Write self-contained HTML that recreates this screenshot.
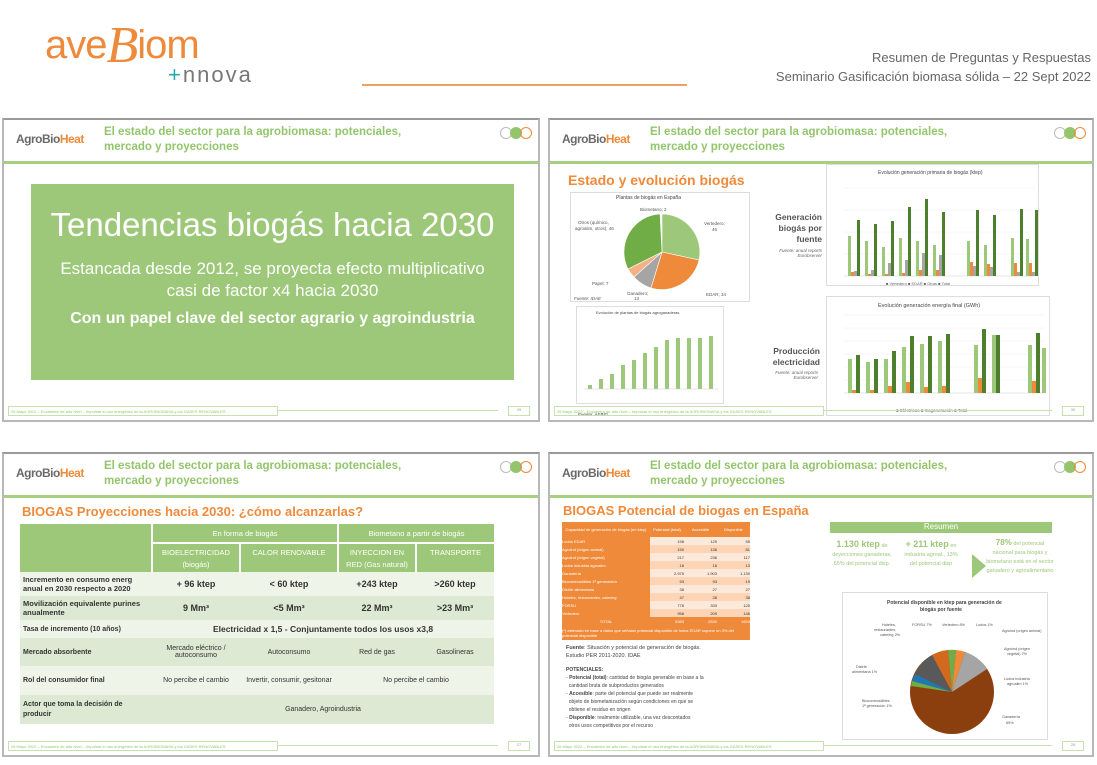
<!DOCTYPE html>
<html><head><meta charset="utf-8">
<style>
*{margin:0;padding:0;box-sizing:border-box}
body{width:1097px;height:765px;background:#fff;font-family:"Liberation Sans",sans-serif;position:relative;overflow:hidden}
.a{position:absolute}
.slide{position:absolute;border:2px solid #b8b8b8;border-top-color:#9a9a9a;background:#fff;overflow:hidden}
.hdr{position:absolute;left:0;right:0;top:0;height:44px;border-bottom:3px solid #a6cf82}
.logo{position:absolute;left:12px;top:12px;font-size:12px;font-weight:bold;color:#6a6a6a;letter-spacing:-0.5px}
.logo b{color:#ef8a3a}
.ttl{position:absolute;left:100px;top:5px;font-size:11.5px;font-weight:bold;color:#93c66c;line-height:15px}
.dots{position:absolute;right:6px;top:6px}
.dots span{display:inline-block;width:12px;height:12px;border-radius:50%;border:1px solid #bbb;margin-left:-2px}
.ftr{position:absolute;left:4px;bottom:4px;width:270px;height:10px;border:1px solid #c6e0b0;font-size:4px;color:#93c66c;padding:2px}
.fline{position:absolute;left:274px;right:40px;bottom:9px;border-top:1px solid #c6e0b0}
.fnum{position:absolute;right:8px;bottom:4px;width:22px;height:10px;border:1px solid #c6e0b0;font-size:4px;color:#999;text-align:center}
.or{color:#ef8a3a;font-weight:bold}
table{border-collapse:collapse;table-layout:fixed}
</style></head><body>

<div class="a" style="left:45px;top:12px;font-size:40px;color:#ee8a3c;letter-spacing:-1px">ave<span style="font-family:'Liberation Serif',serif;font-style:italic;font-size:52px;position:relative;top:4px">B</span>iom</div>
<div class="a" style="left:168px;top:62px;font-size:22px;color:#777;letter-spacing:2px"><span style="color:#2aa8b0">+</span>nnova</div>
<div class="a" style="left:362px;top:84px;width:325px;height:2px;background:#f0a062"></div>
<div class="a" style="right:6px;top:48px;font-size:13px;color:#666;text-align:right;line-height:19px">Resumen de Preguntas y Respuestas<br>Seminario Gasificación biomasa sólida – 22 Sept 2022</div>

<!-- slide 1 -->
<div class="slide" style="left:2px;top:118px;width:538px;height:304px">
 <div class="hdr"><div class="logo">AgroBio<b>Heat</b></div><div class="ttl">El estado del sector para la agrobiomasa: potenciales,<br>mercado y proyecciones</div><div class="dots"><span></span><span style="background:#93c66c;border-color:#93c66c"></span><span style="border-color:#ef8a3a"></span></div></div>
 <div class="a" style="left:27px;top:64px;width:483px;height:196px;background:#9dc879;color:#fff;text-align:center">
  <div style="font-size:33px;margin-top:22px">Tendencias biogás hacia 2030</div>
  <div style="font-size:17px;margin-top:14px;line-height:22px">Estancada desde 2012, se proyecta efecto multiplicativo<br>casi de factor x4 hacia 2030</div>
  <div style="font-size:16px;font-weight:bold;margin-top:8px">Con un papel clave del sector agrario y agroindustria</div>
 </div>
 <div class="ftr">26 Mayo 2022 – Encuentro de alto nivel – Impulsar el uso energético de la AGROBIOMASA y los GASES RENOVABLES</div><div class="fline"></div><div class="fnum">29</div>
</div>

<!-- slide 2 -->
<div class="slide" style="left:548px;top:118px;width:546px;height:304px">
 <div class="hdr"><div class="logo">AgroBio<b>Heat</b></div><div class="ttl">El estado del sector para la agrobiomasa: potenciales,<br>mercado y proyecciones</div><div class="dots"><span></span><span style="background:#93c66c;border-color:#93c66c"></span><span style="border-color:#ef8a3a"></span></div></div>
 <div class="a or" style="left:18px;top:52px;font-size:14px">Estado y evolución biogás</div>
 <div class="a" style="left:20px;top:72px;width:180px;height:110px;border:1px solid #ddd"></div>
 <div class="a" style="left:66px;top:75px;font-size:5px;color:#444">Plantas de biogás en España</div>
 <svg class="a" style="left:20px;top:72px" width="180" height="110">
  <path d="M92 60 L92 22 A38 38 0 0 1 129 68 Z" fill="#9dc879" stroke="#fff" stroke-width=".6"/>
  <path d="M92 60 L129 68 A38 38 0 0 1 81 96 Z" fill="#ef8a3a" stroke="#fff" stroke-width=".6"/>
  <path d="M92 60 L81 96 A38 38 0 0 1 64 85 Z" fill="#a5a5a5" stroke="#fff" stroke-width=".6"/>
  <path d="M92 60 L64 85 A38 38 0 0 1 58 77 Z" fill="#f4b183" stroke="#fff" stroke-width=".6"/>
  <path d="M92 60 L58 77 A38 38 0 0 1 90 22 Z" fill="#70ad47" stroke="#fff" stroke-width=".6"/>
  <text font-size="4.5" fill="#555"><tspan x="70" y="19">Biometano; 2</tspan><tspan x="134" y="33">Vertedero;</tspan><tspan x="142" y="39">46</tspan><tspan x="8" y="32">Otros (químico,</tspan><tspan x="5" y="38">agroalim, otros); 46</tspan><tspan x="22" y="93">Papel; 7</tspan><tspan x="57" y="103">Ganadero;</tspan><tspan x="64" y="108">13</tspan><tspan x="136" y="104">EDAR; 34</tspan><tspan x="4" y="108" font-style="italic">Fuente: IDAE</tspan></text>
 </svg>
 <div class="a" style="left:26px;top:186px;width:148px;height:98px;border:1px solid #ddd"></div>
 <svg class="a" style="left:26px;top:186px" width="150" height="115">
  <text x="20" y="8" font-size="4" fill="#444">Evolución de plantas de biogás agroganaderas</text>
  <g fill="#9dc879">
   <rect x="12" y="79" width="4" height="4"/><rect x="23" y="73" width="4" height="10"/><rect x="34" y="68" width="4" height="15"/><rect x="45" y="59" width="4" height="24"/><rect x="56" y="54" width="4" height="29"/><rect x="67" y="47" width="4" height="36"/><rect x="78" y="41" width="4" height="42"/><rect x="89" y="34" width="4" height="49"/><rect x="100" y="32" width="4" height="51"/><rect x="111" y="32" width="4" height="51"/><rect x="122" y="32" width="4" height="51"/><rect x="133" y="30" width="4" height="53"/>
  </g>
  <line x1="8" y1="83" x2="142" y2="83" stroke="#ccc" stroke-width=".5"/>
  <text x="2" y="110" font-size="4.5" font-style="italic" fill="#444">Fuente: AEBIG</text>
 </svg>
 <div class="a" style="width:50px;text-align:right;font-size:8.5px;font-weight:bold;color:#555;line-height:11px;left:222px;top:92px">Generación biogás por fuente</div>
 <div class="a" style="left:222px;top:128px;width:50px;text-align:right;font-size:4.5px;font-style:italic;color:#666">Fuente: anual reports Eurobserver</div>
 <div class="a" style="left:276px;top:44px;width:213px;height:122px;border:1px solid #ddd"></div>
 <svg class="a" style="left:276px;top:44px" width="214" height="122">
  <text x="52" y="10" font-size="5" fill="#444">Evolución generación primaria de biogás (ktep)</text>
  <g stroke="#eee" stroke-width=".5"><line x1="18" y1="24" x2="208" y2="24"/><line x1="18" y1="46" x2="208" y2="46"/><line x1="18" y1="68" x2="208" y2="68"/><line x1="18" y1="90" x2="208" y2="90"/></g>
  <line x1="18" y1="112" x2="208" y2="112" stroke="#ccc" stroke-width=".5"/>
  <g fill="#9dc879"><rect x="22" y="72" width="3" height="40"/><rect x="39" y="77" width="3" height="35"/><rect x="56" y="83" width="3" height="29"/><rect x="73" y="74" width="3" height="38"/><rect x="90" y="77" width="3" height="35"/><rect x="107" y="81" width="3" height="31"/><rect x="141" y="77" width="3" height="35"/><rect x="158" y="81" width="3" height="31"/><rect x="185" y="74" width="3" height="38"/><rect x="200" y="75" width="3" height="37"/></g>
  <g fill="#ef8a3a"><rect x="25" y="108" width="3" height="4"/><rect x="42" y="110" width="3" height="2"/><rect x="59" y="110" width="3" height="2"/><rect x="76" y="109" width="3" height="3"/><rect x="93" y="106" width="3" height="6"/><rect x="110" y="106" width="3" height="6"/><rect x="144" y="98" width="3" height="14"/><rect x="161" y="100" width="3" height="12"/><rect x="188" y="99" width="3" height="13"/><rect x="203" y="99" width="3" height="13"/></g>
  <g fill="#a5a5a5"><rect x="28" y="107" width="3" height="5"/><rect x="45" y="106" width="3" height="6"/><rect x="62" y="99" width="3" height="13"/><rect x="79" y="96" width="3" height="16"/><rect x="96" y="89" width="3" height="23"/><rect x="113" y="91" width="3" height="21"/><rect x="147" y="102" width="3" height="10"/><rect x="164" y="103" width="3" height="9"/><rect x="191" y="108" width="3" height="4"/><rect x="206" y="108" width="3" height="4"/></g>
  <g fill="#4e7f2d"><rect x="31" y="56" width="3" height="56"/><rect x="48" y="60" width="3" height="52"/><rect x="65" y="57" width="3" height="55"/><rect x="82" y="43" width="3" height="69"/><rect x="99" y="35" width="3" height="77"/><rect x="116" y="48" width="3" height="64"/><rect x="150" y="46" width="3" height="66"/><rect x="167" y="51" width="3" height="61"/><rect x="194" y="45" width="3" height="67"/><rect x="209" y="46" width="3" height="66"/></g>
  <text x="60" y="121" font-size="4" fill="#666">■ Vertedero  ■ EDAR  ■ Otras  ■ Total</text>
 </svg>
 <div class="a" style="left:218px;top:226px;width:52px;text-align:right;font-size:8.5px;font-weight:bold;color:#555;line-height:11px">Producción electricidad</div>
 <div class="a" style="left:218px;top:250px;width:50px;text-align:right;font-size:4.5px;font-style:italic;color:#666">Fuente: anual reports Eurobserver</div>
 <div class="a" style="left:276px;top:176px;width:224px;height:120px;border:1px solid #ddd"></div>
 <svg class="a" style="left:276px;top:176px" width="224" height="120">
  <text x="52" y="11" font-size="5.5" fill="#444">Evolución generación energía final (GWh)</text>
  <g stroke="#eee" stroke-width=".5"><line x1="18" y1="19" x2="218" y2="19"/><line x1="18" y1="32" x2="218" y2="32"/><line x1="18" y1="45" x2="218" y2="45"/><line x1="18" y1="58" x2="218" y2="58"/><line x1="18" y1="71" x2="218" y2="71"/><line x1="18" y1="84" x2="218" y2="84"/></g>
  <line x1="18" y1="97" x2="218" y2="97" stroke="#ccc" stroke-width=".5"/>
  <g fill="#9dc879"><rect x="22" y="63" width="4" height="34"/><rect x="40" y="66" width="4" height="31"/><rect x="58" y="63" width="4" height="34"/><rect x="76" y="51" width="4" height="46"/><rect x="94" y="48" width="4" height="49"/><rect x="112" y="45" width="4" height="52"/><rect x="148" y="49" width="4" height="48"/><rect x="166" y="39" width="4" height="58"/><rect x="202" y="49" width="4" height="48"/><rect x="216" y="52" width="4" height="45"/></g>
  <g fill="#ef8a3a"><rect x="26" y="94" width="4" height="3"/><rect x="44" y="94" width="4" height="3"/><rect x="62" y="90" width="4" height="7"/><rect x="80" y="86" width="4" height="11"/><rect x="98" y="91" width="4" height="6"/><rect x="116" y="90" width="4" height="7"/><rect x="152" y="82" width="4" height="15"/><rect x="206" y="85" width="4" height="12"/></g>
  <g fill="#4e7f2d"><rect x="30" y="59" width="4" height="38"/><rect x="48" y="63" width="4" height="34"/><rect x="66" y="55" width="4" height="42"/><rect x="84" y="40" width="4" height="57"/><rect x="102" y="40" width="4" height="57"/><rect x="120" y="38" width="4" height="59"/><rect x="156" y="33" width="4" height="64"/><rect x="170" y="39" width="4" height="58"/><rect x="210" y="37" width="4" height="60"/></g>
  <text x="70" y="116" font-size="4.5" fill="#666">■ Eléctricas  ■ Cogeneración  ■ Total</text>
 </svg>
 <div class="ftr">26 Mayo 2022 – Encuentro de alto nivel – Impulsar el uso energético de la AGROBIOMASA y los GASES RENOVABLES</div><div class="fline"></div><div class="fnum">30</div>
</div>

<!-- slide 3 -->
<div class="slide" style="left:2px;top:452px;width:538px;height:305px">
 <div class="hdr"><div class="logo">AgroBio<b>Heat</b></div><div class="ttl">El estado del sector para la agrobiomasa: potenciales,<br>mercado y proyecciones</div><div class="dots"><span></span><span style="background:#93c66c;border-color:#93c66c"></span><span style="border-color:#ef8a3a"></span></div></div>
 <div class="a or" style="left:18px;top:50px;font-size:13px">BIOGAS Proyecciones hacia 2030: ¿cómo alcanzarlas?</div>
 <table class="a" style="left:16px;top:70px;width:474px;font-size:7.5px;color:#333">
  <colgroup><col style="width:132px"><col style="width:88px"><col style="width:98px"><col style="width:78px"><col style="width:78px"></colgroup>
  <tr style="height:19px;background:#9dc879;color:#fff;text-align:center"><td rowspan="2" style="border-right:2px solid #fff"></td><td colspan="2" style="border-right:2px solid #fff;border-bottom:2px solid #fff">En forma de biogás</td><td colspan="2" style="border-bottom:2px solid #fff">Biometano a partir de biogás</td></tr>
  <tr style="height:29px;background:#9dc879;color:#fff;text-align:center;vertical-align:top;line-height:12px"><td style="border-right:2px solid #fff;padding-top:3px">BIOELECTRICIDAD<br>(biogás)</td><td style="border-right:2px solid #fff;padding-top:3px">CALOR RENOVABLE</td><td style="border-right:2px solid #fff;padding-top:3px">INYECCION EN<br>RED (Gas natural)</td><td style="padding-top:3px">TRANSPORTE</td></tr>
  <tr style="height:24px;background:#eef5e8;text-align:center;font-size:9px;font-weight:bold"><td style="text-align:left;font-size:7.5px;padding-left:3px;line-height:9px">Incremento en consumo energ anual en 2030 respecto a 2020</td><td>+ 96 ktep</td><td>&lt; 60 ktep</td><td>+243 ktep</td><td>&gt;260 ktep</td></tr>
  <tr style="height:24px;background:#dde9d3;text-align:center;font-size:9px;font-weight:bold"><td style="text-align:left;font-size:7.5px;padding-left:3px;line-height:9px">Movilización equivalente purines anualmente</td><td>9 Mm³</td><td>&lt;5 Mm³</td><td>22 Mm³</td><td>&gt;23 Mm³</td></tr>
  <tr style="height:18px;background:#eef5e8;font-weight:bold"><td style="padding-left:3px;font-size:7px">Tasa de incremento (10 años)</td><td colspan="4" style="text-align:center;font-size:8.5px">Electricidad x 1,5 - Conjuntamente todos los usos x3,8</td></tr>
  <tr style="height:28px;background:#dde9d3;text-align:center;font-size:7px"><td style="text-align:left;padding-left:3px;font-weight:bold">Mercado absorbente</td><td>Mercado eléctrico / autoconsumo</td><td>Autoconsumo</td><td>Red de gas</td><td>Gasolineras</td></tr>
  <tr style="height:29px;background:#eef5e8;text-align:center;font-size:7px"><td style="text-align:left;padding-left:3px;font-weight:bold">Rol del consumidor final</td><td>No percibe el cambio</td><td>Invertir, consumir, gesitonar</td><td colspan="2">No percibe el cambio</td></tr>
  <tr style="height:29px;background:#dde9d3;text-align:center;font-size:7px"><td style="text-align:left;padding-left:3px;font-weight:bold;line-height:10px">Actor que toma la decisión de producir</td><td colspan="4">Ganadero, Agroindustria</td></tr>
 </table>
 <div class="ftr">26 Mayo 2022 – Encuentro de alto nivel – Impulsar el uso energético de la AGROBIOMASA y los GASES RENOVABLES</div><div class="fline"></div><div class="fnum">27</div>
</div>

<!-- slide 4 -->
<div class="slide" style="left:548px;top:452px;width:546px;height:305px">
 <div class="hdr"><div class="logo">AgroBio<b>Heat</b></div><div class="ttl">El estado del sector para la agrobiomasa: potenciales,<br>mercado y proyecciones</div><div class="dots"><span></span><span style="background:#93c66c;border-color:#93c66c"></span><span style="border-color:#ef8a3a"></span></div></div>
 <div class="a or" style="left:13px;top:49px;font-size:13px">BIOGAS Potencial de biogas en España</div>
 <table class="a" style="left:12px;top:68px;width:188px;font-size:4px;color:#333;background:#ef8a3a">
  <colgroup><col style="width:88px"><col style="width:34px"><col style="width:33px"><col style="width:33px"></colgroup>
  <tr style="height:15px;color:#fff;text-align:center"><td>Capacidad de generación de biogás (en ktep)</td><td>Potencial (total)</td><td>Accesible</td><td>Disponible</td></tr>
  <tr style="height:8px;background:#fde9d9;text-align:right"><td style="background:#ef8a3a;color:#fff;text-align:left">Lodos EDAR</td><td>198</td><td>129</td><td>55</td></tr>
  <tr style="height:8px;background:#fbd5b5;text-align:right"><td style="background:#ef8a3a;color:#fff;text-align:left">Agroind (origen animal)</td><td>150</td><td>136</td><td>81</td></tr>
  <tr style="height:8px;background:#fde9d9;text-align:right"><td style="background:#ef8a3a;color:#fff;text-align:left">Agroind (origen vegetal)</td><td>217</td><td>236</td><td>117</td></tr>
  <tr style="height:8px;background:#fbd5b5;text-align:right"><td style="background:#ef8a3a;color:#fff;text-align:left">Lodos industria agroalim</td><td>16</td><td>16</td><td>13</td></tr>
  <tr style="height:8px;background:#fde9d9;text-align:right"><td style="background:#ef8a3a;color:#fff;text-align:left">Ganadería</td><td>2.975</td><td>1.903</td><td>1.130</td></tr>
  <tr style="height:8px;background:#fbd5b5;text-align:right"><td style="background:#ef8a3a;color:#fff;text-align:left">Biocombustibles 1ª generación</td><td>93</td><td>93</td><td>19</td></tr>
  <tr style="height:8px;background:#fde9d9;text-align:right"><td style="background:#ef8a3a;color:#fff;text-align:left">Distrib alimentaria</td><td>38</td><td>27</td><td>27</td></tr>
  <tr style="height:8px;background:#fbd5b5;text-align:right"><td style="background:#ef8a3a;color:#fff;text-align:left">Hoteles, restaurantes, catering</td><td>47</td><td>38</td><td>38</td></tr>
  <tr style="height:8px;background:#fde9d9;text-align:right"><td style="background:#ef8a3a;color:#fff;text-align:left">FORSU</td><td>778</td><td>333</td><td>125</td></tr>
  <tr style="height:8px;background:#fbd5b5;text-align:right"><td style="background:#ef8a3a;color:#fff;text-align:left">Vertedero</td><td>958</td><td>209</td><td>146</td></tr>
  <tr style="height:9px;color:#fff;text-align:right"><td style="text-align:center">TOTAL</td><td>5383</td><td>2530</td><td>1694</td></tr>
  <tr style="height:14px;color:#fff"><td colspan="4">(*) estimado en base a datos que señalan potencial disponible de lodos EDAR supone un 3% del potencial disponible</td></tr>
 </table>
 <div class="a" style="left:16px;top:190px;font-size:5.5px;color:#444;line-height:8px"><b>Fuente</b>: Situación y potencial de generación de biogás.<br>Estudio PER 2011-2020. IDAE</div>
 <div class="a" style="left:16px;top:212px;font-size:5px;color:#444;line-height:8px"><b>POTENCIALES:</b><br>- <b>Potencial (total)</b>: cantidad de biogás generable en base a la<br>&nbsp; cantidad bruta de subproductos generados<br>- <b>Accesible</b>: parte del potencial que puede ser realmente<br>&nbsp; objeto de biometanización según condiciones en que se<br>&nbsp; obtiene el residuo en origen<br>- <b>Disponible</b>: realmente utilizable, una vez descontados<br>&nbsp; otros usos competitivos por el recurso</div>
 <div class="a" style="left:280px;top:68px;width:222px;height:11px;background:#9dc879;color:#fff;font-size:8px;text-align:center">Resumen</div>
 <div class="a" style="left:278px;top:86px;width:68px;text-align:center;font-size:5.5px;color:#9dc879;line-height:9px"><b style="font-size:9px">1.130 ktep</b> de deyecciones ganaderas, 65% del potencial disp.</div>
 <div class="a" style="left:350px;top:86px;width:62px;text-align:center;font-size:5.5px;color:#9dc879;line-height:9px"><b style="font-size:9px">+ 211 ktep</b> en industria agroal., 13% del potencial disp</div>
 <div class="a" style="left:422px;top:100px;width:0;height:0;border-top:12px solid transparent;border-bottom:12px solid transparent;border-left:14px solid #9dc879"></div>
 <div class="a" style="left:436px;top:84px;width:68px;text-align:center;font-size:5.5px;color:#9dc879;line-height:9px"><b style="font-size:8px">78%</b> del potencial nacional para biogás y biometano está en el sector ganadero y agroalimentario</div>
 <div class="a" style="left:292px;top:138px;width:206px;height:148px;border:1px solid #ddd"></div>
 <svg class="a" style="left:292px;top:138px" width="206" height="148">
  <text font-size="5" fill="#444" font-weight="bold"><tspan x="45" y="12">Potencial disponible en ktep para generación de</tspan><tspan x="78" y="19">biogás por fuente</tspan></text>
  <circle cx="110" cy="100" r="42" fill="#8b3f0e"/>
  <path d="M110 100 L73 82 A42 42 0 0 1 90 63 Z" fill="#595959"/>
  <path d="M110 100 L90 63 A42 42 0 0 1 106 58 Z" fill="#d2691e"/>
  <path d="M110 100 L106 58 A42 42 0 0 1 114 58 Z" fill="#70ad47"/>
  <path d="M110 100 L114 58 A42 42 0 0 1 123 60 Z" fill="#ef8a3a"/>
  <path d="M110 100 L123 60 A42 42 0 0 1 145 77 Z" fill="#a5a5a5"/>
  <path d="M110 100 L73 82 A42 42 0 0 0 70 89 Z" fill="#1f77b4"/>
  <path d="M110 100 L70 89 A42 42 0 0 0 69 94 Z" fill="#70ad47"/>
  <text font-size="3.8" fill="#555"><tspan x="40" y="34">Hoteles,</tspan><tspan x="32" y="39">restaurantes,</tspan><tspan x="38" y="44">catering 2%</tspan><tspan x="70" y="34">FORSU 7%</tspan><tspan x="100" y="34">Vertedero 8%</tspan><tspan x="134" y="34">Lodos 1%</tspan><tspan x="160" y="40">Agroind (origen animal)</tspan><tspan x="162" y="58">Agroind (origen</tspan><tspan x="165" y="63">vegetal) 7%</tspan><tspan x="162" y="88">Lodos industria</tspan><tspan x="165" y="93">agroalim 1%</tspan><tspan x="14" y="76">Distrib</tspan><tspan x="10" y="81">alimentaria 1%</tspan><tspan x="20" y="110">Biocombustibles</tspan><tspan x="20" y="115">1ª generación 1%</tspan><tspan x="160" y="126">Ganadería</tspan><tspan x="164" y="132">65%</tspan></text>
 </svg>
 <div class="ftr">26 Mayo 2022 – Encuentro de alto nivel – Impulsar el uso energético de la AGROBIOMASA y los GASES RENOVABLES</div><div class="fline"></div><div class="fnum">28</div>
</div>
</body></html>
